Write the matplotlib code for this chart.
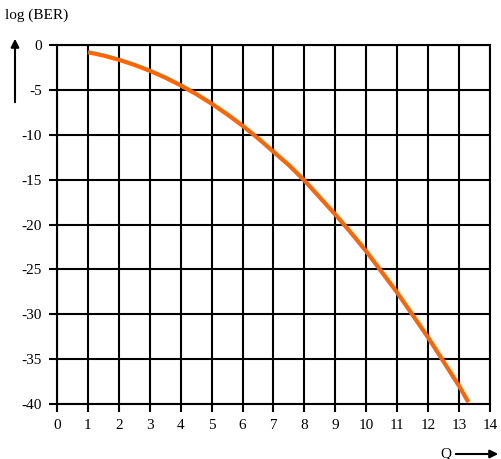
import numpy as np
import matplotlib
matplotlib.use("Agg")
import matplotlib.pyplot as plt

# Q values and log10(BER)
q = [1, 1.5, 2, 2.5, 3, 3.5, 4, 4.5, 5, 5.5, 6, 6.5, 7, 7.5, 8, 8.5,
     9, 9.5, 10, 10.5, 11, 11.5, 12, 12.5, 13, 13.3]
log_ber = [-0.8, -1.17, -1.64, -2.21, -2.87, -3.63, -4.5, -5.47, -6.54,
           -7.72, -9.0, -10.4, -11.9, -13.4, -15.1, -17.0, -18.9, -20.9,
           -23.0, -25.3, -27.6, -30.1, -32.6, -35.3, -38.0, -39.8]

x_ticks = list(range(0, 15))
y_ticks = [0, -5, -10, -15, -20, -25, -30, -35, -40]

plt.rcParams['font.family'] = ['Liberation Serif', 'DejaVu Serif']
plt.rcParams['axes.unicode_minus'] = False

fig = plt.figure(figsize=(5.02, 4.59), dpi=100)
ax = fig.add_axes([57 / 502, 1 - 404 / 459, 433 / 502, 359 / 459])

ax.plot(q, log_ber, color='#ff6600', lw=3, solid_capstyle='butt', zorder=3)

ax.set_xlim(0, 14)
ax.set_ylim(-40, 0)
ax.set_xticks(x_ticks)
ax.set_yticks(y_ticks)
ax.grid(True, color='black', lw=1.5)
for s in ax.spines.values():
    s.set_linewidth(1.5)
ax.tick_params(axis='both', length=6, width=1.5, labelsize=11, pad=5)

# axis labels with arrows, as in the reference
fig.text(5 / 502, 1 - 15 / 459, 'log (BER)', fontsize=11, va='center', ha='left')
fig.add_artist(matplotlib.patches.FancyArrowPatch(
    (15 / 502, 1 - 105 / 459), (15 / 502, 1 - 36 / 459),
    transform=fig.transFigure, arrowstyle='-|>', mutation_scale=12,
    color='black', lw=1.5))
fig.text(446 / 502, 1 - 454 / 459, 'Q', fontsize=11, va='center', ha='center')
fig.add_artist(matplotlib.patches.FancyArrowPatch(
    (453 / 502, 1 - 454 / 459), (501 / 502, 1 - 454 / 459),
    transform=fig.transFigure, arrowstyle='-|>', mutation_scale=12,
    color='black', lw=1.5))

fig.savefig('out.png', dpi=100)
